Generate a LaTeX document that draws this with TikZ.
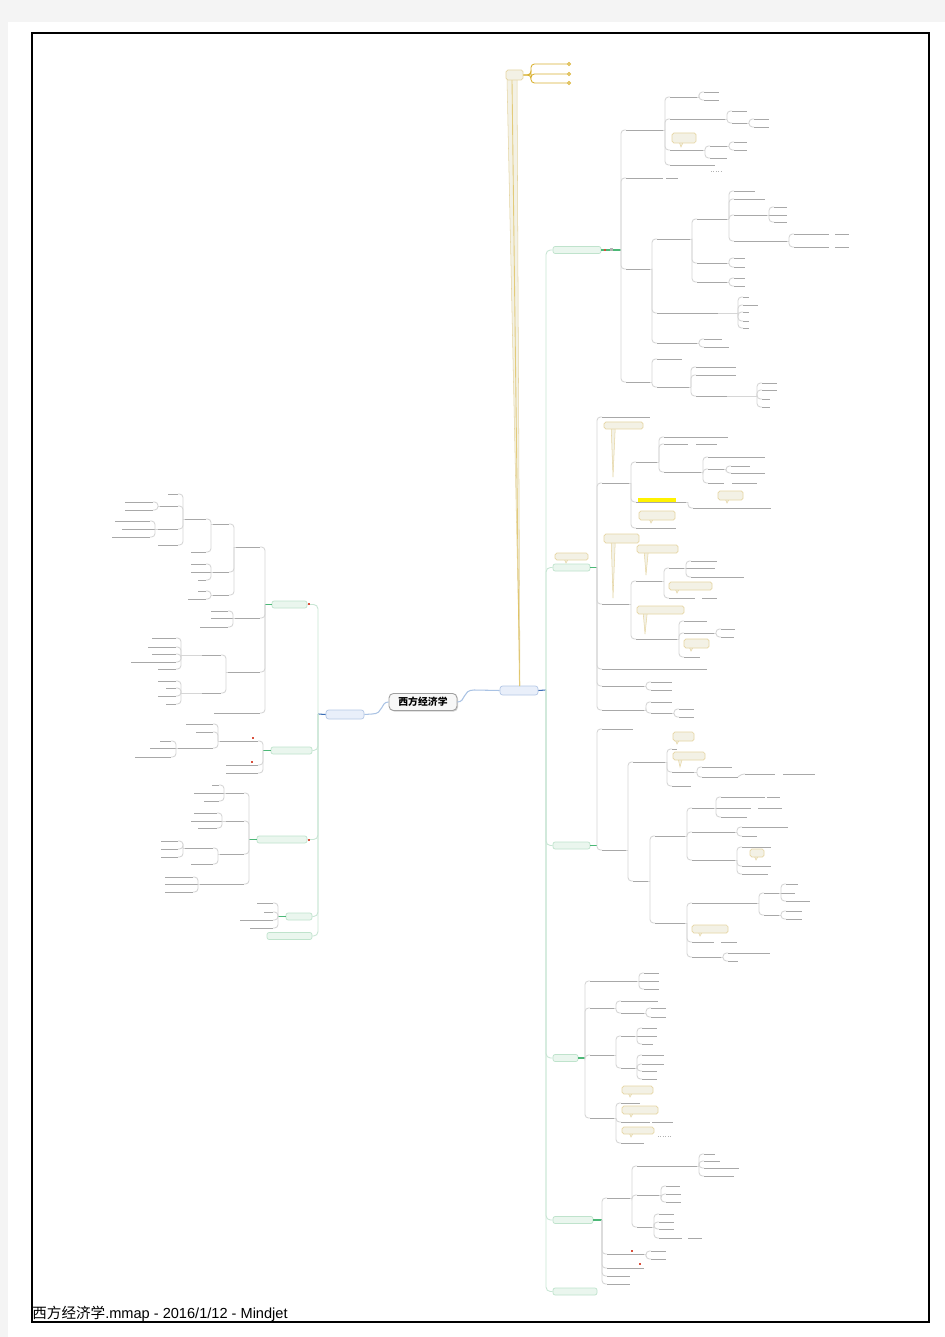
\documentclass[tikz,border=0pt]{standalone}
\usepackage{fontspec}
\newfontfamily\cjk{Noto Sans CJK SC}
\newfontfamily\arial{Liberation Sans}
\usetikzlibrary{fit,shadows}

\definecolor{pagegray}{HTML}{F4F4F4}
\definecolor{brkc}{HTML}{D6D6D6}
\definecolor{ulinec}{HTML}{A8A8A8}
\definecolor{gboxf}{HTML}{EAF6EE}
\definecolor{gboxd}{HTML}{BFE3CC}
\definecolor{bboxf}{HTML}{E9EFFA}
\definecolor{bboxd}{HTML}{B5C8E6}
\definecolor{notef}{HTML}{F3F1E5}
\definecolor{noted}{HTML}{E6D6A4}
\definecolor{trunkc}{HTML}{C8E6D4}
\definecolor{glinec}{HTML}{4CB877}
\definecolor{blinec}{HTML}{3D6FB6}
\definecolor{mainc}{HTML}{AAC3E4}
\definecolor{yelc}{HTML}{D9B233}
\definecolor{iconred}{HTML}{D9503C}

\tikzset{
  boxw/.style={minimum width=#1*0.02cm},
  boxh/.style={minimum height=#1*0.02cm},
  brk/.style={draw=brkc, line width=.5pt, rounded corners=2pt},
  uline/.style={draw=ulinec, line width=.55pt},
  gbox/.style={draw=gboxd, fill=gboxf, rounded corners=1.2pt, inner sep=0, minimum height=0.14cm, line width=.4pt},
  bbox/.style={draw=bboxd, fill=bboxf, rounded corners=1.5pt, inner sep=0, minimum height=0.18cm, line width=.4pt},
  notebox/.style={draw=noted, fill=notef, rounded corners=1pt, inner sep=0, line width=.4pt},
  notebg/.style={draw=noted, fill=notef, line width=.3pt},
  ctrbox/.style={draw=gray!75, fill=gray!6, rounded corners=2.5pt, inner sep=0, line width=.5pt,
    drop shadow={shadow xshift=.6pt, shadow yshift=-.6pt, opacity=.35}},
  trunk/.style={draw=trunkc, line width=.5pt, rounded corners=2.5pt},
  gline/.style={draw=glinec, line width=.6pt},
  bline/.style={draw=blinec, line width=.6pt},
  mainln/.style={draw=mainc, line width=.6pt},
  yel/.style={draw=yelc, line width=.5pt},
  tinytxt/.style={draw=gray!60, line width=.4pt, densely dotted},
}

% right-hand branch: parent end x, parent y, bracket x, {child y/child end x}
\newcommand\rk[4]{%
  \draw[brk, sharp corners] (#1,#2) -- (#3,#2);
  \foreach \cy/\cx in {#4}{%
    \ifdim\cy pt=#2pt
      \draw[uline] (#3,\cy) -- (\cx,\cy);
    \else
      \draw[brk] (#3,#2) -- (#3,\cy) -- ++(5,0);
      \draw[uline] (#3,\cy) ++(5,0) -- (\cx,\cy);
    \fi
  }}
% left-hand branch
\newcommand\lk[4]{%
  \draw[brk, sharp corners] (#1,#2) -- (#3,#2);
  \foreach \cy/\cx in {#4}{%
    \ifdim\cy pt=#2pt
      \draw[uline] (#3,\cy) -- (\cx,\cy);
    \else
      \draw[brk] (#3,#2) -- (#3,\cy) -- ++(-5,0);
      \draw[uline] (#3,\cy) ++(-5,0) -- (\cx,\cy);
    \fi
  }}
% callout: name, x1, y1, x2, y2, tail x, tail tip y
\newcommand\note[7]{%
  \filldraw[notebg] (#6-1.8,#5-1) -- (#6,#7) -- (#6+2.2,#5-1) -- cycle;
  \node[notebox, fit={(#2,#3) (#4,#5)}] (#1) {};
}
\newcommand\icon[2]{\fill[iconred] (#1-1.4,#2-1.4) rectangle (#1+1.4,#2+1.4);}

\begin{document}
\begin{tikzpicture}[x=0.02cm,y=-0.02cm]
\useasboundingbox (0,0) rectangle (945,1337);
\fill[pagegray] (0,0) rectangle (945,1337);
\fill[white] (8,22) rectangle (945,1337);
\draw[line width=.6pt] (32,33) rectangle (929,1322);

% centre and the two main topics
\node[ctrbox, boxw=68, boxh=17] (ctr) at (423,702) {\fontsize{5.6}{6}\selectfont\cjk\bfseries 西方经济学};
\node[bbox, boxw=38] (R) at (519,690.5) {};
\node[bbox, boxw=38] (L) at (345,714.5) {};
\draw[mainln] (ctr.east) .. controls (466,702) and (462,690) .. (474,690) -- (R.west);
\draw[mainln] (ctr.west) .. controls (380,702) and (384,714) .. (372,714) -- (L.east);

% callout above the right topic
\filldraw[notebg] (507,79) -- (517,79) -- (520,686) -- cycle;
\draw[yel, draw opacity=.6] (512,80) -- (519.5,686);
\node[notebox, boxw=17, boxh=10] (Y) at (514.5,75) {};
\foreach \cy in {64,74,83}{
  \draw[yel, rounded corners=2pt] (Y.east) -| (531,\cy) -- (567,\cy);
  \draw[yel] (569,\cy) circle (.8pt);
}

% right subtopics
\node[gbox, boxw=48] (A) at (577,250) {};
\node[gbox, boxw=37] (B) at (571.5,567.5) {};
\node[gbox, boxw=37] (C) at (571.5,845.5) {};
\node[gbox, boxw=25] (D) at (565.5,1058) {};
\node[gbox, boxw=40] (E) at (573,1220) {};
\node[gbox, boxw=44] (F) at (575,1291.5) {};
\draw[bline] (R.east) -- (546,690);
\foreach \n in {A,B,C,D,E,F}
  \draw[trunk] (546,690) |- (\n.west);

% left subtopics
\node[gbox, boxw=35] (G) at (289.5,604.5) {};
\node[gbox, boxw=41] (H) at (291.5,750.5) {};
\node[gbox, boxw=50] (I) at (282,839.5) {};
\node[gbox, boxw=26] (J) at (299,916.5) {};
\node[gbox, boxw=45] (K) at (289.5,936) {};
\draw[bline] (L.west) -- (318,714);
\foreach \n in {G,H,I,J,K}
  \draw[trunk] (318,714) |- (\n.east);

% ---- A
\draw[gline] (A.east) -- (621,250);
\icon{605}{250} \fill[gray!60] (610,248.5) rectangle (613,251.5);
\rk{621}{250}{621}{130/663, 178/663, 269/650, 382/650}
\draw[uline] (666,178) -- (678,178);
\rk{663}{130}{665}{97/697, 119/725, 150/703, 165/715}
\rk{697}{97}{699}{92/719, 100/719}
\rk{725}{119}{727}{111/747, 123/747}
\rk{747}{123}{749}{119/769, 127/769}
\rk{703}{150}{705}{146/727, 158/727}
\rk{727}{146}{729}{142/747, 150/747}
\draw[tinytxt] (711,171) -- (723,171);
\note{na1}{672}{133}{696}{143}{681}{147}
\rk{650}{269}{652}{239/690, 313/718, 343/697}
\rk{690}{239}{692}{219/727, 263/727, 282/727}
\rk{727}{219}{729}{191/755, 199/765, 215/767, 241/787}
\rk{767}{215}{769}{207/787, 215/787, 222/787}
\rk{787}{241}{789}{234/829, 247/829}
\draw[uline] (835,234) -- (849,234) (835,247) -- (849,247);
\rk{727}{263}{729}{258/745, 267/745}
\rk{727}{282}{729}{278/745, 286/745}
\rk{718}{313}{738}{297/749, 305/758, 312/749, 321/749, 328/749}
\rk{697}{343}{699}{339/722, 347/729}
\rk{650}{382}{652}{359/682, 387/689}
\rk{689}{387}{691}{367/736, 375/736, 396/727}
\rk{727}{396}{757}{383/777, 390/777, 399/770, 407/770}

% ---- B
\note{nbt}{555}{553}{588}{560}{566}{563}
\draw[gline] (B.east) -- (597,567.5);
\rk{597}{567.5}{597}{417/650, 483/629, 604/629, 669/707, 686/644, 710/644}
\note{nb0}{604}{422}{643}{429}{613}{477}
\rk{629}{483}{631}{462/657, 502/686, 528/676}
\fill[yellow] (638,497.5) rectangle (676,502);
\rk{657}{462}{659}{437/728, 444/688, 472/701}
\draw[uline] (696,444) -- (717,444);
\rk{701}{472}{703}{457/765, 469/724, 483/724}
\draw[uline] (732,483) -- (757,483);
\rk{724}{469}{726}{466/750, 473/765}
\rk{686}{502}{688}{508/771}
\note{nb1}{718}{491}{743}{500}{727}{503}
\note{nb2}{639}{511}{675}{520}{651}{523}
\note{nb3}{604}{534}{639}{543}{613}{598}
\rk{629}{604}{631}{581/662, 639/677}
\note{nb4}{637}{545}{678}{553}{646}{575}
\rk{662}{581}{664}{568/684, 598/695}
\draw[uline] (702,598) -- (717,598);
\rk{684}{568}{686}{561/717, 568/715, 577/744}
\note{nb5}{669}{582}{712}{590}{677}{593}
\note{nb7}{637}{606}{684}{614}{645}{634}
\rk{677}{639}{679}{621/707, 633/714, 657/700}
\rk{714}{633}{716}{629/735, 637/734}
\note{nb6}{684}{639}{709}{648}{691}{651}
\rk{644}{686}{646}{682/672, 690/672}
\rk{644}{710}{646}{702/672, 713/672}
\rk{672}{713}{674}{709/694, 717/694}

% ---- C
\draw[gline] (C.east) -- (597,845.5);
\rk{597}{845.5}{597}{729/633, 850/626}
\rk{626}{850}{628}{762/665, 881/648}
\rk{665}{762}{667}{749/677, 772/694, 786/691}
\note{nc1}{673}{732}{694}{741}{677}{744}
\note{nc2}{673}{752}{705}{760}{680}{767}
\rk{694}{772}{697}{767/732, 777/738}
\draw[brk] (738,777) -- (741,774) -- (745,774);
\draw[uline] (745,774) -- (775,774) (783,774) -- (815,774);
\rk{648}{881}{650}{836/685, 923/685}
\rk{685}{836}{687}{808/714, 832/735, 860/735}
\rk{714}{808}{716}{797/765, 808/751, 817/747}
\draw[uline] (767,797) -- (780,797) (758,808) -- (782,808);
\rk{735}{832}{737}{827/788, 836/757}
\rk{735}{860}{737}{847/771, 866/771, 874/768}
\note{nc3}{750}{849}{764}{857}{756}{860}
\rk{685}{923}{687}{903/757, 942/714, 957/721}
\draw[uline] (721,942) -- (737,942);
\note{nc4}{692}{925}{728}{933}{700}{936}
\rk{757}{903}{759}{893/779, 915/779}
\rk{779}{893}{781}{884/798, 893/795, 901/810}
\rk{779}{915}{781}{911/802, 919/802}
\rk{721}{957}{723}{953/770, 961/738}

% ---- D
\draw[gline] (D.east) -- (585,1058);
\rk{585}{1058}{585}{981/637, 1008/614, 1055/614, 1118/614}
\rk{637}{981}{639}{973/659, 981/659, 989/659}
\rk{614}{1008}{616}{1001/658, 1013/644}
\rk{644}{1013}{646}{1008/666, 1017/666}
\rk{614}{1055}{616}{1036/635, 1068/635}
\rk{635}{1036}{637}{1028/657, 1036/657, 1044/653}
\rk{635}{1068}{637}{1055/664, 1064/664, 1071/657, 1079/657}
\rk{614}{1118}{616}{1103/640, 1122/650, 1143/644}
\draw[uline] (652,1122) -- (673,1122);
\note{nd1}{622}{1086}{653}{1094}{630}{1097}
\note{nd2}{622}{1106}{658}{1114}{631}{1117}
\note{nd3}{622}{1127}{654}{1134}{631}{1137}
\draw[tinytxt] (658,1136) -- (671,1136);

% ---- E
\draw[gline] (E.east) -- (602,1220);
\rk{602}{1220}{602}{1198/630, 1254/644, 1268/644, 1276/630, 1284/630}
\rk{630}{1198}{632}{1166/697, 1195/659, 1227/652}
\rk{697}{1166}{699}{1154/715, 1161/720, 1168/739, 1176/734}
\rk{659}{1195}{661}{1186/680, 1194/681, 1202/681}
\rk{652}{1227}{654}{1214/674, 1222/674, 1229/674, 1238/682}
\draw[uline] (688,1238) -- (702,1238);
\rk{644}{1254}{646}{1251/666, 1259/666}
\icon{632}{1251} \icon{640}{1264}

% ---- G
\draw[gline] (G.west) -- (265,604.5);
\icon{309}{604}
\lk{265}{604.5}{265}{547/236, 618/235, 672/228, 713/214}
\lk{236}{547}{234}{524/213, 572/213, 595/213}
\lk{213}{524}{211}{519/185, 552/191}
\lk{185}{519}{183}{494/168, 506/160, 529/158, 545/158}
\lk{160}{506}{158}{502/125, 510/125}
\lk{158}{529}{155}{521/115, 529/122, 537/112}
\lk{213}{572}{211}{564/191, 572/191, 580/198}
\lk{213}{595}{211}{591/198, 599/188}
\lk{235}{618}{233}{611/211, 618/211, 627/200}
\lk{228}{672}{226}{655/202, 693/202}
\lk{202}{655}{181}{638/152, 647/148, 654/152, 662/131, 669/158}
\lk{202}{693}{181}{681/158, 688/166, 696/158, 704/166}

% ---- H
\draw[gline] (H.west) -- (263,750.5);
\lk{263}{750.5}{263}{741/220, 765/226, 773/226}
\lk{220}{741}{218}{724/186, 732/196, 748/178}
\lk{178}{748}{176}{741/160, 748/150, 757/135}
\icon{253}{738} \icon{252}{762}

% ---- I
\draw[gline] (I.west) -- (249,839.5);
\icon{309}{840}
\lk{249}{839.5}{249}{793/226, 821/226, 854/220, 884/200}
\lk{226}{793}{224}{785/212, 793/194, 801/204}
\lk{226}{821}{222}{813/194, 821/191, 828/198}
\lk{220}{854}{218}{848/185, 864/191}
\lk{185}{848}{183}{841/161, 849/161, 857/161}
\lk{200}{884}{198}{877/165, 884/165, 892/165}

% ---- J
\draw[gline] (J.west) -- (278,916.5);
\lk{278}{916.5}{278}{903/257, 912/264, 920/240, 928/250}

% footer
\node[anchor=base west, inner sep=0, font=\fontsize{8.3}{9}\selectfont] (foot) at (32,1318)
  {{\cjk 西方经济学}{\arial .mmap - 2016/1/12 - Mindjet}};
\end{tikzpicture}
\end{document}
